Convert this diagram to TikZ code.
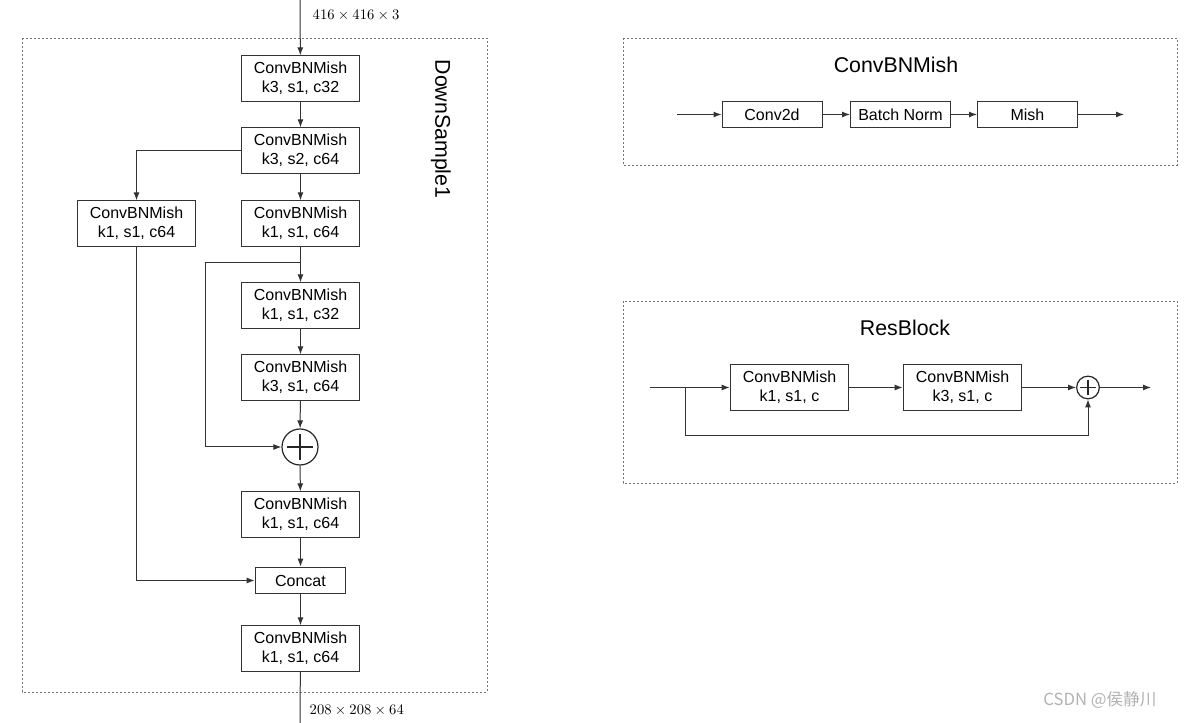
\documentclass[tikz,border=0pt]{standalone}
\usepackage{fontspec}
\setmainfont{Liberation Sans}
\newfontfamily\cjk{Noto Sans CJK SC}
\usetikzlibrary{arrows.meta, positioning}

\begin{document}
\begin{tikzpicture}[x=0.75pt, y=-0.75pt, >={Latex[length=6pt,width=4.5pt]},
  line/.style={draw=black!80, line width=0.75pt},
  arr/.style={line, ->},
  frame/.style={draw=black!55, line width=0.6pt, dash pattern=on 1.5pt off 1.5pt},
  blk/.style={draw=black!80, line width=0.75pt, fill=white, align=center, inner sep=0pt,
    minimum width=89pt, minimum height=34pt, font=\fontsize{12}{14.5}\selectfont},
  sblk/.style={blk, minimum width=75pt, minimum height=20pt},
  addop/.style={circle, draw=black!85, line width=0.9pt, inner sep=0pt, minimum size=#1,
    path picture={\draw[line width=0.9pt]
      ([yshift=-0.15*#1]path picture bounding box.north) -- ([yshift=0.15*#1]path picture bounding box.south)
      ([xshift=0.15*#1]path picture bounding box.west) -- ([xshift=-0.15*#1]path picture bounding box.east);}},
  title/.style={font=\fontsize{16}{18}\selectfont},
  dim/.style={anchor=west, font=\fontsize{11}{13}\selectfont}]
\useasboundingbox (0,0) rectangle (1197,723);

% DownSample1
\draw[frame] (22,38) rectangle (487,692);
\node[title, rotate=-90] (dstitle) at (441,129) {DownSample1};
\coordinate (in) at (300,0);
\coordinate (out) at (300,723);
\node[dim] (indim) at (308,15) {$416\times416\times3$};
\node[dim] (outdim) at (305,710) {$208\times208\times64$};

\node[blk] (b1) at (300.5,78.5) {ConvBNMish\\k3, s1, c32};
\node[blk] (b2) at (300.5,150.5) {ConvBNMish\\k3, s2, c64};
\node[blk] (b3) at (136.5,223.5) {ConvBNMish\\k1, s1, c64};
\node[blk] (b4) at (300.5,223.5) {ConvBNMish\\k1, s1, c64};
\node[blk] (b5) at (300.5,305.5) {ConvBNMish\\k1, s1, c32};
\node[blk] (b6) at (300.5,377.5) {ConvBNMish\\k3, s1, c64};
\node[addop=27pt] (add) at (300,447) {};
\node[blk] (b7) at (300.5,514.5) {ConvBNMish\\k1, s1, c64};
\node[sblk, minimum width=68pt] (cat) at (300.5,580.5) {Concat};
\node[blk] (b8) at (300.5,648.5) {ConvBNMish\\k1, s1, c64};

\coordinate (br) at (300,263);
\coordinate (skip) at (205,447);

\draw[arr] (in) -- (b1);
\draw[arr] (b1) -- (b2);
\draw[arr] (b2) -- (b4);
\draw[arr] (b2.west) -| (b3);
\draw[arr] (b4) -- (b5);
\draw[line] (br) -| (skip);
\draw[arr] (skip) -- (add);
\draw[arr] (b5) -- (b6);
\draw[arr] (b6) -- (add);
\draw[arr] (add) -- (b7);
\draw[arr] (b7) -- (cat);
\draw[arr] (b3) |- (cat);
\draw[arr] (cat) -- (b8);
\draw[line] (b8) -- (out);

% ConvBNMish
\draw[frame] (623,38) rectangle (1177,165);
\node[title] (cbmtitle) at (896,65) {ConvBNMish};
\node[sblk] (conv) at (772,114.5) {Conv2d};
\node[sblk] (bn) at (900.5,114.5) {Batch Norm};
\node[sblk] (mish) at (1027.5,114.5) {Mish};
\coordinate (cin) at (677,114.5);
\coordinate (cout) at (1124,114.5);
\draw[arr] (cin) -- (conv);
\draw[arr] (conv) -- (bn);
\draw[arr] (bn) -- (mish);
\draw[arr] (mish) -- (cout);

% ResBlock
\draw[frame] (623,301) rectangle (1177,483);
\node[title] (rbtitle) at (905,328) {ResBlock};
\node[blk] (ra) at (789.5,387.5) {ConvBNMish\\k1, s1, c};
\node[blk] (rb) at (962.5,387.5) {ConvBNMish\\k3, s1, c};
\node[addop=17pt] (radd) at (1088,387.5) {};
\coordinate (rin) at (650,387.5);
\coordinate (rbr) at (685,387.5);
\coordinate (rlow) at (685,436);
\coordinate (rout) at (1151,387.5);
\draw[line] (rin) -- (rbr);
\draw[arr] (rbr) -- (ra);
\draw[arr] (ra) -- (rb);
\draw[arr] (rb) -- (radd);
\draw[arr] (radd) -- (rout);
\draw[line] (rbr) -- (rlow);
\draw[arr] (rlow) -| (radd);

% watermark
\node[text=black!30, font=\cjk\fontsize{12.5}{14}\selectfont] (mark) at (1100,700) {CSDN @侯静川};
\end{tikzpicture}
\end{document}
